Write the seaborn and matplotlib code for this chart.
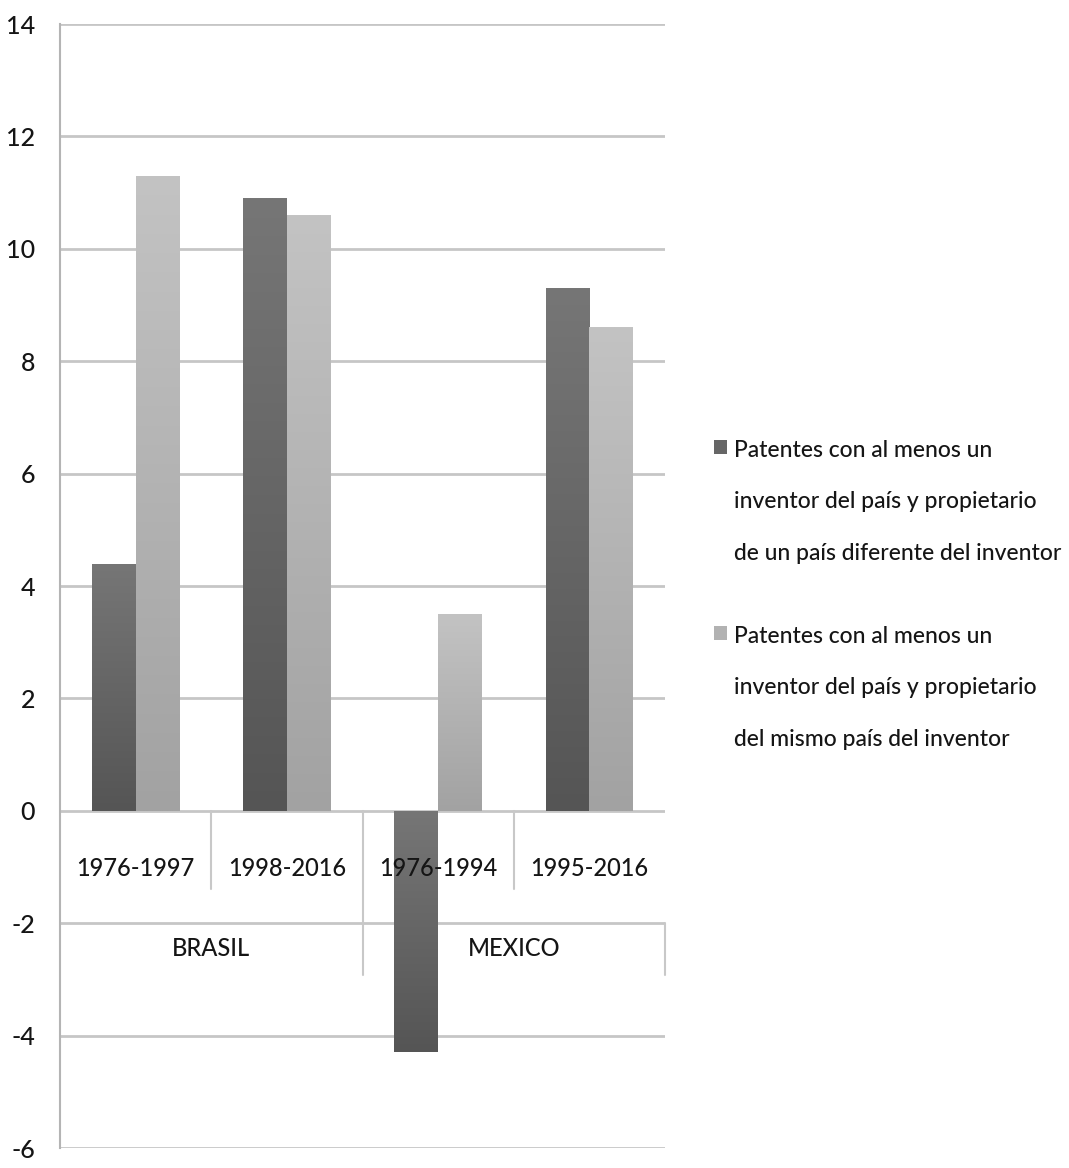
import numpy as np
import pandas as pd
import seaborn as sns
import matplotlib.pyplot as plt
from matplotlib.patches import Patch
from matplotlib.colors import LinearSegmentedColormap

# data
periods = ["1976-1997", "1998-2016", "1976-1994", "1995-2016"]
countries = ["BRASIL", "MEXICO"]
series = [
    "Patentes con al menos un\ninventor del país y propietario\nde un país diferente del inventor",
    "Patentes con al menos un\ninventor del país y propietario\ndel mismo país del inventor",
]
diferente = [4.4, 10.9, -4.3, 9.3]
mismo = [11.3, 10.6, 3.5, 8.6]
y_ticks = list(range(-6, 15, 2))

df = pd.DataFrame({
    "periodo": periods * 2,
    "valor": diferente + mismo,
    "serie": [series[0]] * len(periods) + [series[1]] * len(periods),
})

sns.set_style("white")
plt.rcParams["font.family"] = ["Lato", "DejaVu Sans"]
plt.rcParams["font.weight"] = "medium"

fig = plt.figure(figsize=(10.69, 11.68), dpi=100)
ax = fig.add_axes([60 / 1069, 1 - 1148 / 1168, 605 / 1069, 1124 / 1168])

base = ["#666666", "#b2b2b2"]
sns.barplot(data=df, x="periodo", y="valor", hue="serie", order=periods,
            hue_order=series, palette=base, width=0.58, saturation=1,
            errorbar=None, legend=False, ax=ax, zorder=2)

# vertical gradient on each bar, like the spreadsheet original
grads = {
    base[0]: LinearSegmentedColormap.from_list("d", ["#767676", "#555555"]),
    base[1]: LinearSegmentedColormap.from_list("l", ["#c3c3c3", "#a2a2a2"]),
}
ramp = np.linspace(0, 1, 256).reshape(-1, 1)
for p in list(ax.patches):
    fc = "#%02x%02x%02x" % tuple(int(round(c * 255)) for c in p.get_facecolor()[:3])
    cmap = grads[base[0]] if fc == base[0] else grads[base[1]]
    x0, w = p.get_x(), p.get_width()
    y0, h = p.get_y(), p.get_height()
    lo, hi = min(y0, y0 + h), max(y0, y0 + h)
    p.set_edgecolor("none")
    im = ax.imshow(ramp, cmap=cmap, aspect="auto", origin="upper",
                   extent=[x0, x0 + w, lo, hi], zorder=2.5)
    im.set_clip_path(p)

ax.set_xlim(-0.5, len(periods) - 0.5)
ax.set_ylim(-6, 14)
ax.set_yticks(y_ticks)
ax.set_yticklabels([str(t) for t in y_ticks])
ax.yaxis.grid(True, color="#c6c6c6", lw=2)
ax.xaxis.grid(False)
ax.set_axisbelow(True)
ax.set_xticks([])
ax.set_xlabel("")
ax.set_ylabel("")
for s in ["top", "right", "bottom"]:
    ax.spines[s].set_visible(False)
ax.spines["left"].set_color("#b4b4b4")
ax.spines["left"].set_linewidth(1.5)
ax.tick_params(axis="y", length=6, width=2, color="#c6c6c6", pad=12,
               labelsize=18, labelcolor="#151515")

# two-level category table below the zero line
line_kw = dict(color="#c8c8c8", lw=1.5, zorder=1.5, clip_on=False)
for i, per in enumerate(periods):
    ax.text(i, -1.02, per, ha="center", va="center", fontsize=17,
            color="#151515", zorder=5)
for x in [0.5, 2.5]:
    ax.plot([x, x], [0, -1.4], **line_kw)
ax.plot([1.5, 1.5], [0, -2.92], **line_kw)
ax.plot([3.5, 3.5], [-2, -2.92], **line_kw)
for j, c in enumerate(countries):
    ax.text(0.5 + 2 * j, -2.45, c, ha="center", va="center", fontsize=17,
            color="#151515", zorder=5)

handles = [Patch(facecolor=base[0], edgecolor="none"),
           Patch(facecolor=base[1], edgecolor="none")]
leg = fig.legend(handles, series, loc="upper left",
                 bbox_to_anchor=(693 / 1069, 1 - 419 / 1168), frameon=False,
                 fontsize=16.5, handlelength=0.6, handleheight=0.6,
                 handletextpad=0.3, labelspacing=2.7)
for t in leg.get_texts():
    t.set_linespacing(2.8)
    t.set_color("#151515")
for col in leg._legend_handle_box.get_children():
    for row in col.get_children():
        row.align = "top"

fig.savefig("out.png", dpi=100)
